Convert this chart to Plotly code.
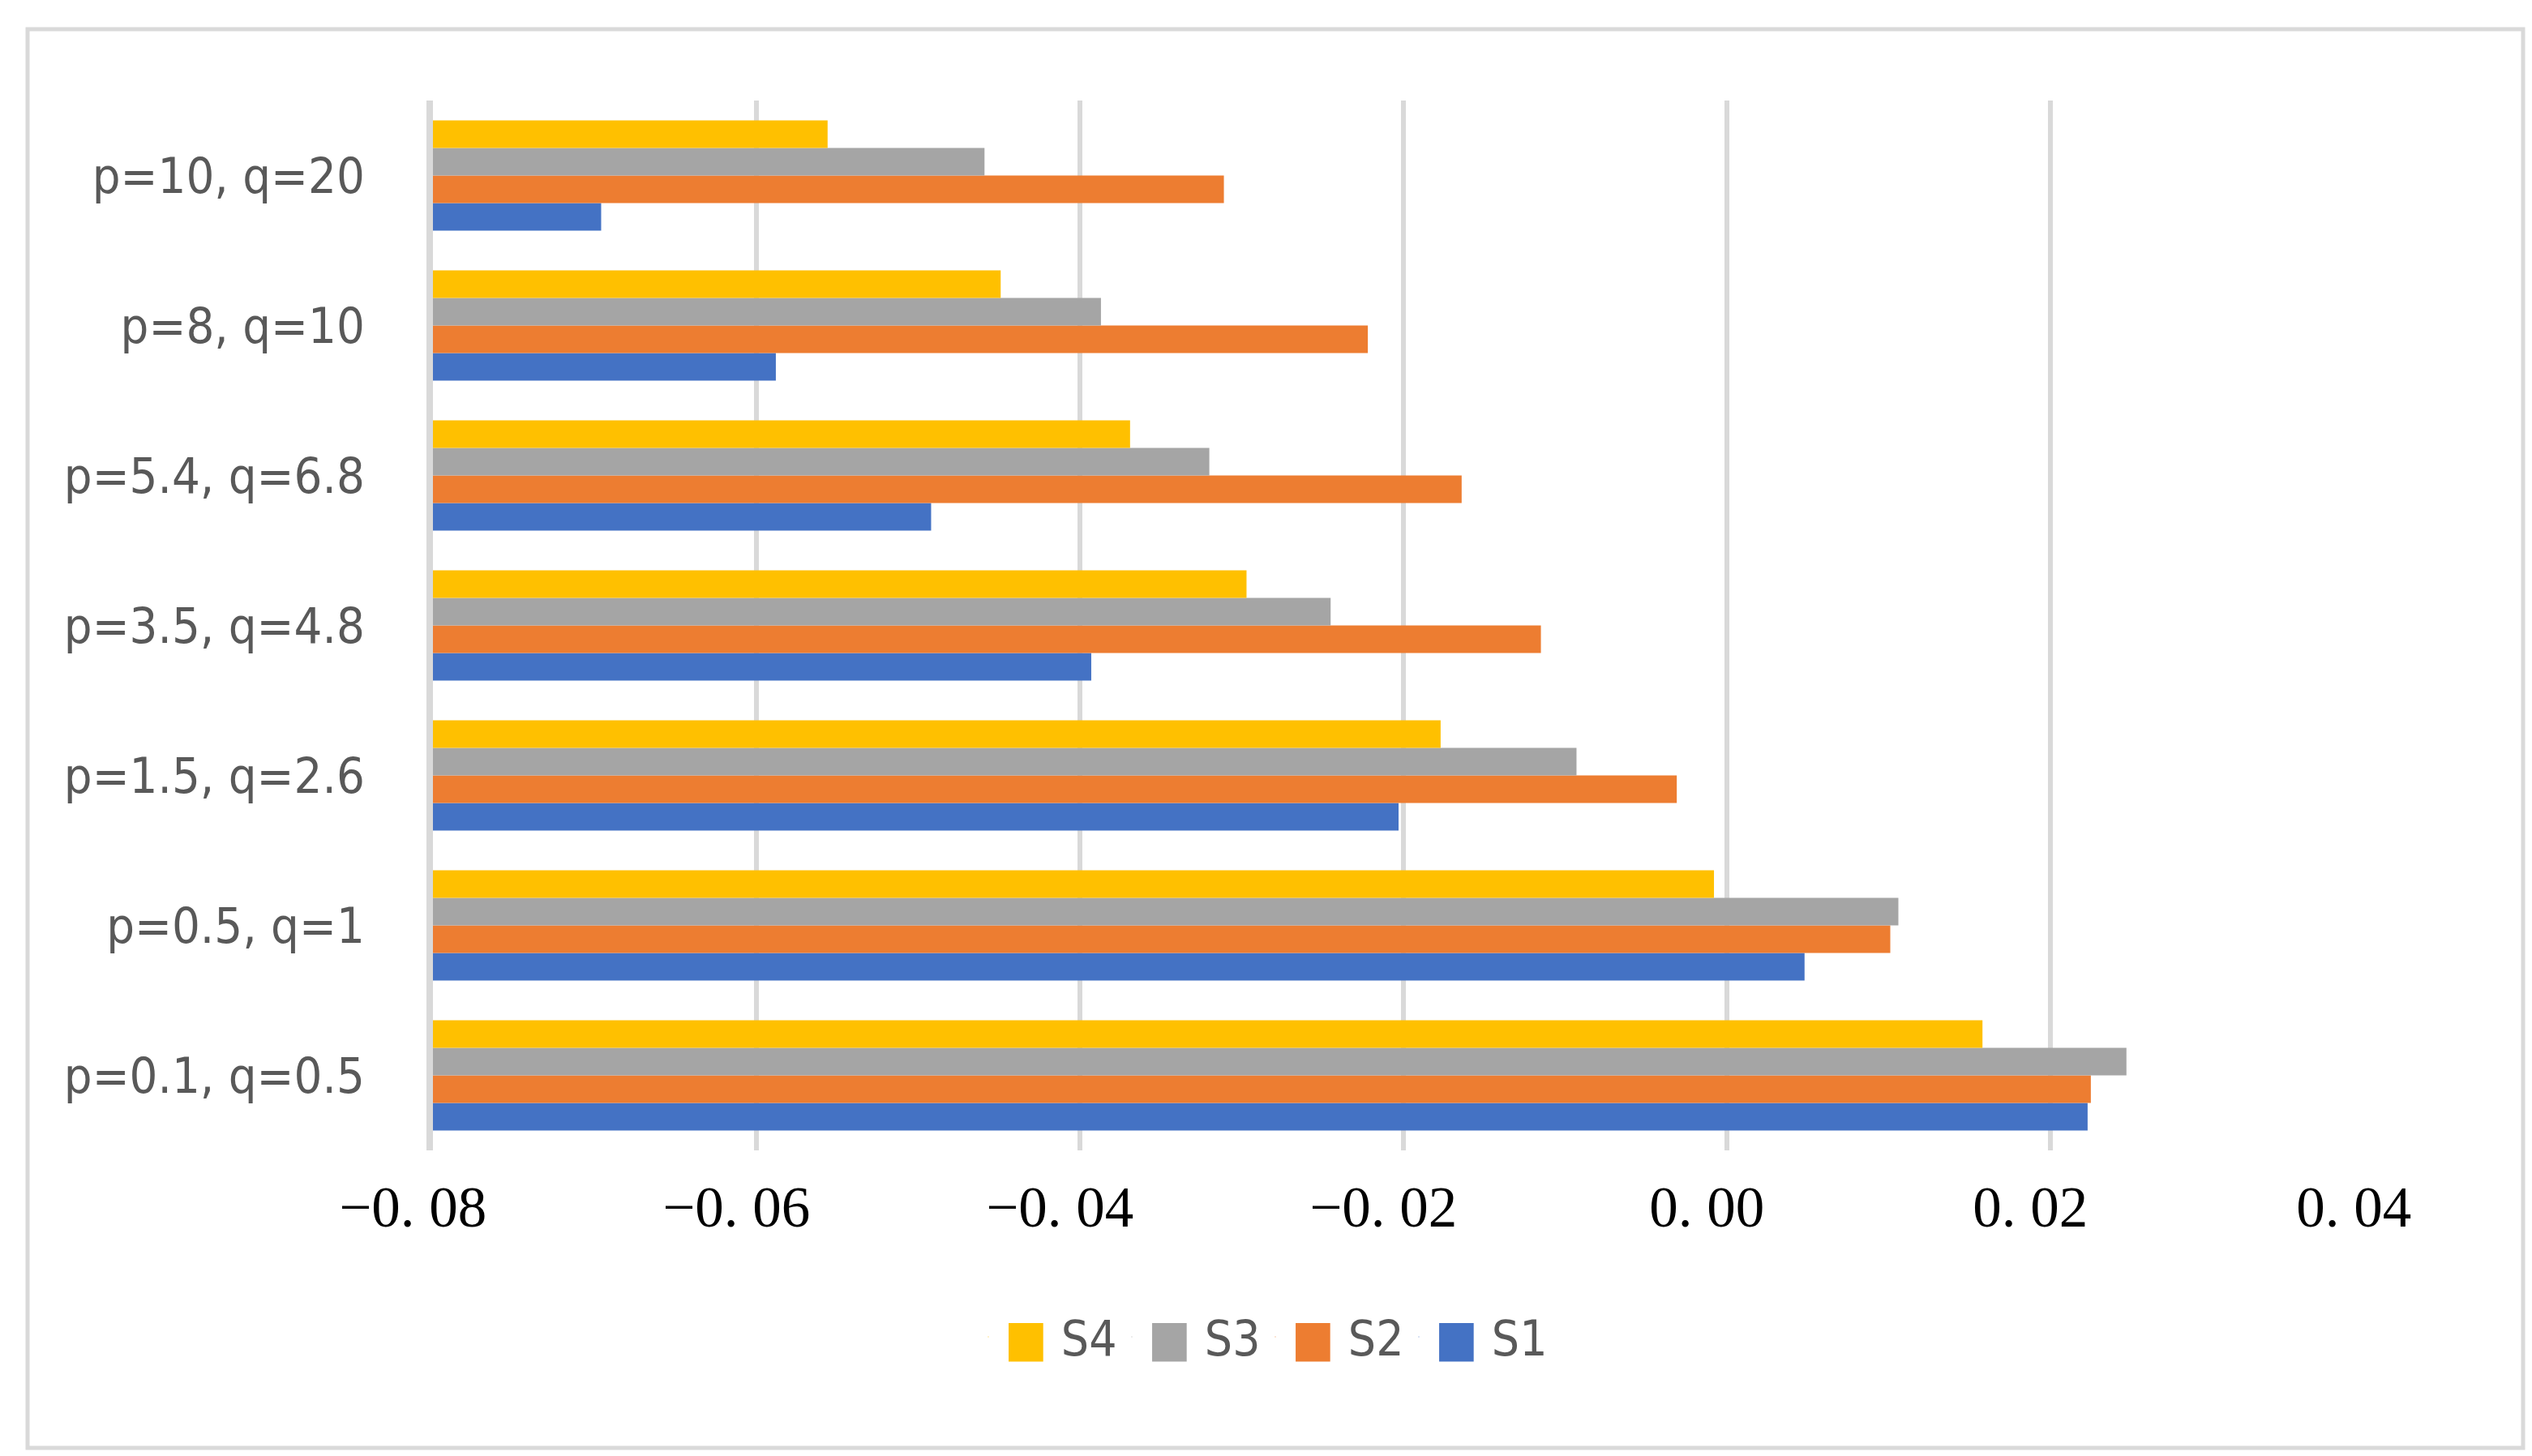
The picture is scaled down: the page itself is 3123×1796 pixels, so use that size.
import plotly.graph_objects as go

categories = ["p=0.1, q=0.5", "p=0.5, q=1", "p=1.5, q=2.6", "p=3.5, q=4.8",
              "p=5.4, q=6.8", "p=8, q=10", "p=10, q=20"]
s1 = [0.0223, 0.0048, -0.0203, -0.0393, -0.0492, -0.0588, -0.0696]
s2 = [0.0225, 0.0101, -0.0031, -0.0115, -0.0164, -0.0222, -0.0311]
s3 = [0.0247, 0.0106, -0.0093, -0.0245, -0.0320, -0.0387, -0.0459]
s4 = [0.0158, -0.0008, -0.0177, -0.0297, -0.0369, -0.0449, -0.0556]
series_names = ["S1", "S2", "S3", "S4"]
series_colors = ["#4472C4", "#ED7D31", "#A5A5A5", "#FFC000"]
tick_vals = [-0.08, -0.06, -0.04, -0.02, 0.0, 0.02, 0.04]
tick_text = ["\u22120. 08", "\u22120. 06", "\u22120. 04", "\u22120. 02", "0. 00", "0. 02", "0. 04"]
axis_base = -0.08  # value axis crosses the category axis here

W, H = 3123, 1796
L, R, T, B = 526, 203, 116, 385
pw, ph = W - L - R, H - T - B

label_font = "DejaVu Sans Condensed, Liberation Sans Narrow, Noto Sans, sans-serif"

fig = go.Figure()
for name, vals, col in zip(series_names, [s1, s2, s3, s4], series_colors):
    fig.add_trace(go.Bar(y=categories, x=[v - axis_base for v in vals], base=axis_base,
                         name=name, orientation="h", showlegend=False,
                         marker=dict(color=col, line=dict(width=0))))
    fig.add_trace(go.Scatter(
        x=[None], y=[None], mode="markers", showlegend=True,
        name="<span style='color:%s;font-size:62px'>\u25A0</span> %s" % (col, name),
        marker=dict(symbol="square", size=1, color=col, opacity=0)))

fig.update_layout(
    width=W, height=H,
    margin=dict(l=L, r=R, t=T, b=B, autoexpand=False),
    paper_bgcolor="white", plot_bgcolor="white",
    barmode="group", bargap=0.265, bargroupgap=0,
    showlegend=True,
    legend=dict(orientation="h", traceorder="reversed",
                x=(1545 - L) / pw, xanchor="center", y=-(1641 - T - ph) / ph, yanchor="middle",
                font=dict(family=label_font, size=60, color="#595959"),
                itemwidth=30, entrywidth=132, entrywidthmode="pixels"),
    xaxis=dict(range=[-0.08, 0.04], tickvals=tick_vals,
               ticktext=[t + "\u2002\u2009" for t in tick_text],
               showgrid=True, gridcolor="#D9D9D9", gridwidth=6,
               zeroline=False, showline=False, ticks="",
               tickfont=dict(family="Liberation Serif, DejaVu Serif, serif", size=71, color="black"),
               ticklabelstandoff=22),
    yaxis=dict(type="category", showgrid=False, zeroline=False,
               showline=True, linecolor="#D9D9D9", linewidth=8, ticks="",
               tickfont=dict(family=label_font, size=61, color="#595959"),
               ticklabelstandoff=64),
    shapes=[
        dict(type="rect", xref="paper", yref="paper",
             x0=(26 - L) / pw, x1=(3104 - L) / pw,
             y0=-(1778 - T - ph) / ph, y1=1 + (T - 28) / ph,
             line=dict(color="#D9D9D9", width=5), fillcolor="rgba(0,0,0,0)", layer="below"),
    ],
)
fig.write_html("out.html")
